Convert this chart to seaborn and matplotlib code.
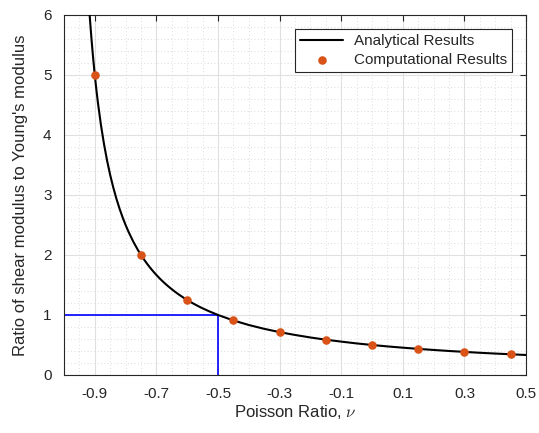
import matplotlib
matplotlib.use("Agg")
import matplotlib.pyplot as plt
import seaborn as sns
import pandas as pd
from matplotlib.ticker import MultipleLocator

sns.set_style("white")
plt.rcParams['font.family'] = ['Liberation Sans', 'DejaVu Sans']
plt.rcParams['mathtext.fontset'] = 'cm'

# Analytical curve values
nu_line = [-0.9167, -0.915, -0.91, -0.905, -0.90, -0.895, -0.89, -0.88, -0.87, -0.86,
           -0.85, -0.84, -0.83, -0.82, -0.81, -0.80, -0.79, -0.775, -0.76, -0.75,
           -0.74, -0.73, -0.72, -0.71, -0.70, -0.69, -0.68, -0.67, -0.66, -0.65,
           -0.64, -0.63, -0.62, -0.61, -0.60, -0.58, -0.56, -0.55, -0.53, -0.50,
           -0.45, -0.40, -0.35, -0.30, -0.25, -0.20, -0.15, -0.10, -0.05, 0.0,
           0.05, 0.10, 0.15, 0.20, 0.25, 0.30, 0.35, 0.40, 0.45, 0.50]
ratio_line = [6.0, 5.882, 5.556, 5.263, 5.0, 4.762, 4.545, 4.167, 3.846, 3.571,
              3.333, 3.125, 2.941, 2.778, 2.632, 2.5, 2.381, 2.222, 2.083, 2.0,
              1.923, 1.852, 1.786, 1.724, 1.667, 1.613, 1.5625, 1.515, 1.471, 1.429,
              1.389, 1.351, 1.316, 1.282, 1.25, 1.190, 1.136, 1.111, 1.064, 1.0,
              0.909, 0.833, 0.769, 0.714, 0.667, 0.625, 0.588, 0.556, 0.526, 0.5,
              0.476, 0.455, 0.435, 0.417, 0.4, 0.385, 0.370, 0.357, 0.345, 0.333]

# Computational points
nu_pts = [-0.9, -0.75, -0.6, -0.45, -0.3, -0.15, 0.0, 0.15, 0.3, 0.45]
ratio_pts = [5.0, 2.0, 1.25, 0.909, 0.714, 0.588, 0.5, 0.435, 0.385, 0.345]

# Reference guide lines
guide_x = [-1.0, -0.5, -0.5]
guide_y = [1.0, 1.0, 0.0]

xticks = [-0.9, -0.7, -0.5, -0.3, -0.1, 0.1, 0.3, 0.5]
yticks = [0, 1, 2, 3, 4, 5, 6]

fig = plt.figure(figsize=(5.39, 4.33), dpi=100)
ax = fig.add_axes([0.1187, 0.134, 0.8573, 0.8314])

df_line = pd.DataFrame({"nu": nu_line, "ratio": ratio_line})
df_pts = pd.DataFrame({"nu": nu_pts, "ratio": ratio_pts})

ax.plot(guide_x, guide_y, color=(0, 0, 1), lw=1.2, zorder=2)
sns.lineplot(data=df_line, x="nu", y="ratio", ax=ax, color="black", lw=1.5,
             sort=False, label="Analytical Results", zorder=3)
sns.scatterplot(data=df_pts, x="nu", y="ratio", ax=ax, color="#D95319",
                s=38, edgecolor="#D95319", linewidth=0, label="Computational Results", zorder=4)

ax.set_xlim(-1.0, 0.5)
ax.set_ylim(0, 6)
ax.set_xticks(xticks)
ax.set_xticklabels([f"{t:g}" for t in xticks])
ax.set_yticks(yticks)
ax.xaxis.set_minor_locator(MultipleLocator(0.05))
ax.yaxis.set_minor_locator(MultipleLocator(0.2))
ax.grid(which="major", color="#e0e0e0", lw=0.8)
ax.grid(which="minor", color="#d0d0d0", lw=0.6, linestyle=(0, (1, 3)))
ax.set_axisbelow(True)
ax.tick_params(which="major", direction="in", length=4, width=0.8, colors="#262626",
               labelsize=11, top=True, right=True, pad=9)
ax.tick_params(which="minor", length=0)
for sp in ax.spines.values():
    sp.set_color("#262626")
    sp.set_linewidth(0.8)

ax.set_xlabel(r"Poisson Ratio, $\nu$", fontsize=12, color="#262626", labelpad=1)
ax.set_ylabel("Ratio of shear modulus to Young's modulus", fontsize=12, color="#262626", labelpad=11)

leg = ax.legend(loc="upper right", bbox_to_anchor=(0.970, 0.961), borderaxespad=0,
                fontsize=11, frameon=True, fancybox=False, edgecolor="#262626", framealpha=1,
                borderpad=0.35, handlelength=2.8, labelspacing=0.3, handletextpad=0.7)
leg.get_frame().set_linewidth(0.8)

fig.savefig("out.png", dpi=100)
